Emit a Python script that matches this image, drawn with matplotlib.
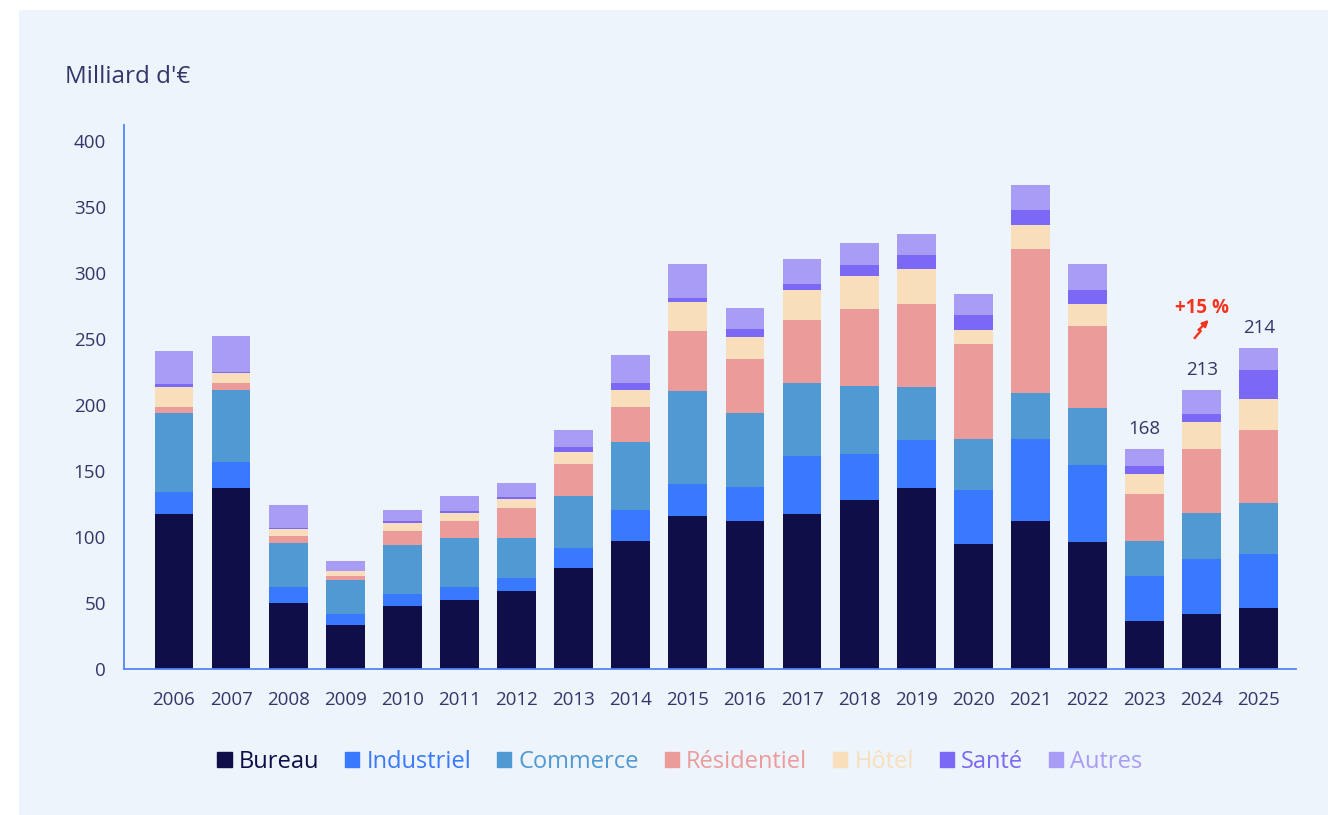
import matplotlib
matplotlib.use("Agg")
import matplotlib.pyplot as plt
from matplotlib.patches import Rectangle
from matplotlib.lines import Line2D
from matplotlib.transforms import IdentityTransform
import numpy as np

plt.rcParams['font.family'] = ['Open Sans', 'DejaVu Sans']

years = [str(y) for y in range(2006, 2026)]
series = ['Bureau', 'Industriel', 'Commerce', 'Résidentiel', 'Hôtel', 'Santé', 'Autres']
colors = ['#0F0E48', '#3879FF', '#5199D3', '#EC9B9B', '#F9DEBB', '#7B68F5', '#A99CF5']

bureau      = [117.4, 137.1, 50.0, 33.3, 47.7, 52.3, 59.1, 76.5, 97.0, 115.9, 112.1, 117.4, 128.0, 137.1, 94.7, 112.1, 96.2, 36.4, 41.7, 46.2]
industriel  = [16.7, 19.7, 12.1, 8.3, 9.1, 9.8, 9.8, 15.2, 23.5, 24.3, 25.8, 43.9, 34.8, 36.4, 40.9, 62.1, 58.3, 34.1, 41.6, 40.9]
commerce    = [59.8, 54.6, 33.4, 25.8, 37.1, 37.1, 30.3, 39.4, 51.5, 70.4, 56.0, 55.3, 51.5, 40.2, 38.6, 34.9, 43.2, 26.5, 34.9, 38.7]
residentiel = [4.6, 5.3, 5.3, 3.0, 10.6, 12.9, 22.8, 24.2, 26.5, 45.5, 40.9, 47.7, 58.3, 62.9, 72.0, 109.1, 62.1, 35.6, 48.5, 55.3]
hotel       = [15.1, 7.5, 5.3, 3.8, 6.1, 6.1, 6.8, 9.1, 12.9, 21.9, 16.7, 22.7, 25.0, 26.5, 10.6, 18.2, 16.7, 15.1, 20.4, 23.4]
sante       = [2.3, 0.8, 0.7, 0.3, 1.5, 1.5, 1.5, 3.8, 5.3, 3.1, 6.1, 4.6, 8.3, 10.6, 11.4, 11.3, 10.6, 6.1, 6.1, 22.0]
autres      = [25.0, 27.3, 17.4, 7.6, 8.4, 11.4, 10.6, 12.9, 21.2, 25.7, 15.9, 18.9, 16.7, 15.9, 15.9, 19.0, 19.7, 12.9, 18.2, 16.7]

# labels shown above the last three bars
label_years = ['2023', '2024', '2025']
label_text = ['168', '213', '214']
growth_text = '+15 %'

text_col = '#34366A'
fig = plt.figure(figsize=(13.28, 8.15), dpi=100, facecolor='white')
fig.patches.append(Rectangle((19 / 1328, 0), 1, 805 / 815, transform=fig.transFigure,
                             facecolor='#EDF4FB', edgecolor='none', zorder=-10))

ax = fig.add_axes([124 / 1328, 146 / 815, 1172 / 1328, 544 / 815])
ax.set_facecolor('none')

data = [bureau, industriel, commerce, residentiel, hotel, sante, autres]
x = np.arange(len(years))
bottom = np.zeros(len(years))
for name, vals, col in zip(series, data, colors):
    ax.bar(x, vals, bottom=bottom, width=0.68, color=col, label=name, zorder=2)
    bottom += np.array(vals)

ax.set_xlim(-0.875, 19.65)
ax.set_ylim(0, 412)
ax.set_yticks(range(0, 401, 50))
ax.set_xticks(x)
ax.set_xticklabels(years)
for s in ['top', 'right']:
    ax.spines[s].set_visible(False)
for s in ['left', 'bottom']:
    ax.spines[s].set_color('#4F86F7')
    ax.spines[s].set_linewidth(1.3)
ax.tick_params(length=0, labelsize=13.5, labelcolor=text_col)
ax.tick_params(axis='y', pad=13)
ax.tick_params(axis='x', pad=16)

fig.text(65 / 1328, 1 - 77 / 815, "Milliard d'€", fontsize=17.5, color=text_col, va='center', ha='left')

for yr, txt in zip(label_years, label_text):
    i = years.index(yr)
    ax.annotate(txt, (i, bottom[i]), xytext=(0, 11), textcoords='offset pixels',
                ha='center', va='bottom', fontsize=13.5, color=text_col)

# growth marker above 2024
i24 = years.index('2024')
ax.annotate(growth_text, (i24, bottom[i24]), xytext=(0, 72), textcoords='offset pixels',
            ha='center', va='bottom', fontsize=13.5, fontweight='bold', color='#F5331F')
ax_px = ax.transData.transform((i24, bottom[i24]))
zx = np.array([-7, -1, -3, 7]) + ax_px[0]
zy = np.array([52, 59, 60, 70]) + ax_px[1]
fig.add_artist(Line2D(zx[:3], zy[:3], transform=IdentityTransform(), color='#F5331F', lw=1.7))
ax.annotate('', xy=(zx[3], zy[3]), xytext=(zx[2], zy[2]), xycoords=IdentityTransform(),
            textcoords=IdentityTransform(),
            arrowprops=dict(arrowstyle='-|>', color='#F5331F', lw=1.7, mutation_scale=9,
                            shrinkA=0, shrinkB=0))

handles = [Rectangle((0, 0), 1, 1, color=c) for c in colors]
leg = fig.legend(handles, series, loc='center', bbox_to_anchor=(680 / 1328, 1 - 762 / 815),
                 ncol=7, frameon=False, fontsize=17, handlelength=0.6, handleheight=0.62,
                 handletextpad=0.3, columnspacing=1.1)
for t, c in zip(leg.get_texts(), colors):
    t.set_color(c)

fig.savefig('out.png', dpi=100, facecolor='white')
